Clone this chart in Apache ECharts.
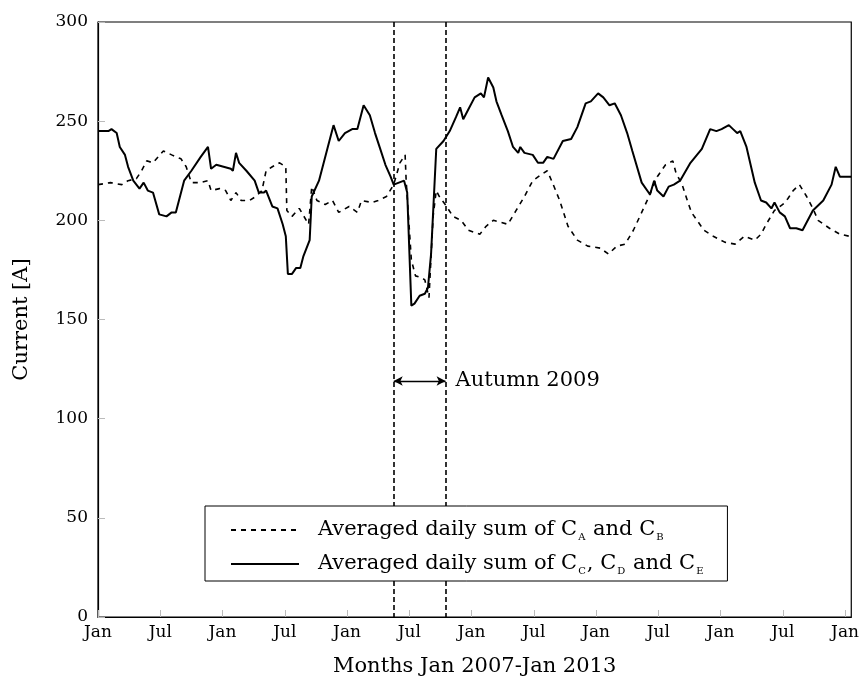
<!DOCTYPE html>
<html>
<head>
<meta charset="utf-8">
<script src="https://cdn.jsdelivr.net/npm/echarts@6/dist/echarts.min.js"></script>
<style>
  html, body { margin: 0; padding: 0; background: #fff; }
  #chart { width: 862px; height: 682px; }
</style>
</head>
<body>
<div id="chart"></div>
<script>
// months since Jan 2007
const abMonths = [0, 1.2, 2.3, 2.9, 3.7, 4.2, 4.7, 5.3, 6.3, 7.1, 8.0, 8.5, 9.0, 9.8, 10.6, 10.9, 11.7, 12.3, 12.8, 13.3, 13.8, 14.6, 15.2, 15.8, 16.2, 16.8, 17.5, 18.1, 18.2, 18.7, 19.4, 20.3, 20.6, 21.1, 21.9, 22.6, 23.2, 24.2, 25.0, 25.4, 26.4, 27.0, 27.8, 28.5, 29.1, 29.6, 29.7, 30.2, 30.6, 31.2, 31.5, 31.9, 32.3, 32.6, 32.9, 33.6, 34.2, 35.0, 35.7, 36.8, 37.4, 38.1, 39.5, 40.3, 41.1, 41.9, 42.7, 43.3, 43.8, 44.5, 45.3, 46.2, 47.2, 48.4, 49.2, 50.0, 50.8, 51.6, 52.4, 53.1, 53.9, 54.7, 55.4, 55.7, 56.3, 56.8, 57.2, 58.4, 59.3, 60.4, 61.4, 62.3, 63.3, 63.9, 64.4, 65.2, 66.0, 66.5, 67.0, 67.6, 68.3, 68.9, 69.4, 70.5, 71.5, 72.4, 72.6];
const abValues = [218, 219, 218, 220, 221, 225, 230, 229, 235, 233, 231, 227, 219, 219, 220, 215, 216, 215, 210, 214, 210, 210, 212, 215, 225, 227, 229, 227, 205, 202, 206, 198, 217, 210, 208, 210, 204, 207, 204, 210, 209, 210, 212, 218, 229, 233, 220, 180, 172, 171, 170, 161, 202, 215, 212, 207, 202, 200, 195, 193, 197, 200, 198, 205, 212, 220, 223, 225, 219, 210, 197, 190, 187, 186, 183, 187, 188, 195, 204, 212, 222, 228, 230, 224, 218, 210, 204, 195, 192, 189, 188, 192, 190, 193, 198, 205, 208, 211, 215, 218, 212, 206, 200, 196, 193, 192, 192];

const cdeMonths = [0, 1.0, 1.3, 1.8, 2.1, 2.6, 2.9, 3.4, 4.0, 4.4, 4.8, 5.3, 5.9, 6.6, 7.1, 7.5, 8.3, 9.0, 9.9, 10.6, 10.9, 11.4, 12.8, 13.0, 13.3, 13.6, 14.3, 15.1, 15.5, 16.0, 16.2, 16.8, 17.3, 17.8, 18.1, 18.3, 18.7, 19.1, 19.5, 19.8, 20.4, 20.6, 21.3, 22.1, 22.7, 23.2, 23.8, 24.5, 25.0, 25.6, 26.2, 26.7, 27.2, 27.7, 28.2, 28.5, 29.0, 29.5, 29.8, 30.2, 30.5, 31.0, 31.5, 31.8, 32.1, 32.6, 33.3, 33.9, 34.5, 34.9, 35.2, 35.7, 36.3, 36.9, 37.2, 37.6, 38.1, 38.4, 38.9, 39.5, 40.0, 40.5, 40.7, 41.1, 41.9, 42.4, 42.9, 43.3, 43.9, 44.8, 45.6, 46.2, 47.0, 47.5, 48.2, 48.7, 49.3, 49.8, 50.4, 51.0, 51.5, 52.4, 53.2, 53.6, 53.9, 54.5, 55.0, 55.5, 56.1, 57.1, 58.2, 59.0, 59.6, 60.1, 60.8, 61.2, 61.6, 61.9, 62.5, 63.3, 63.9, 64.4, 64.9, 65.2, 65.7, 66.2, 66.7, 67.3, 67.9, 68.9, 69.9, 70.7, 71.1, 71.5, 72.6];
const cdeValues = [245, 245, 246, 244, 237, 233, 227, 220, 216, 219, 215, 214, 203, 202, 204, 204, 220, 225, 232, 237, 226, 228, 226, 225, 234, 229, 225, 220, 214, 214, 215, 207, 206, 198, 192, 173, 173, 176, 176, 182, 190, 212, 220, 236, 248, 240, 244, 246, 246, 258, 253, 244, 236, 228, 222, 218, 219, 220, 214, 157, 158, 162, 163, 166, 183, 236, 240, 245, 252, 257, 251, 256, 262, 264, 262, 272, 267, 260, 253, 245, 237, 234, 237, 234, 233, 229, 229, 232, 231, 240, 241, 247, 259, 260, 264, 262, 258, 259, 253, 244, 235, 219, 213, 220, 215, 212, 217, 218, 220, 229, 236, 246, 245, 246, 248, 246, 244, 245, 237, 219, 210, 209, 206, 209, 204, 202, 196, 196, 195, 205, 210, 218, 227, 222, 222];

const xTickLabels = ['Jan', 'Jul', 'Jan', 'Jul', 'Jan', 'Jul', 'Jan', 'Jul', 'Jan', 'Jul', 'Jan', 'Jul', 'Jan'];
const autumnBounds = [28.5, 33.5];
const arrowLevel = 119;

const FONT = 'DejaVu Serif';
const BIG = 21;
const SMALL = 17;
const Y_MIN = 0;
const Y_MAX = 300;

const CHART_H = 682;
const GRID_TOP = 22;
const GRID_BOTTOM = 65;

// legend box: top + padding + two rows + gap + padding
const LEGEND_TOP = 506;
const LEGEND_PAD = [12, 23, 5, 25];
const LEGEND_ROW = 24;
const LEGEND_GAP = 10;
const LEGEND_BOTTOM = LEGEND_TOP + LEGEND_PAD[0] + LEGEND_ROW * 2 + LEGEND_GAP + LEGEND_PAD[2];

// pixel row -> y value, same linear mapping the value axis uses
const plotBottom = CHART_H - GRID_BOTTOM;
const plotHeight = plotBottom - GRID_TOP;
const pxToValue = px => Y_MIN + (plotBottom - px) / plotHeight * (Y_MAX - Y_MIN);

// the boundary lines stop behind the legend box, as in the original
const gapHigh = pxToValue(LEGEND_TOP);
const gapLow = pxToValue(LEGEND_BOTTOM);
const boundaryLines = [];
autumnBounds.forEach(m => {
  boundaryLines.push([{ coord: [m, Y_MAX] }, { coord: [m, gapHigh] }]);
  boundaryLines.push([{ coord: [m, gapLow] }, { coord: [m, Y_MIN] }]);
});

const chart = echarts.init(document.getElementById('chart'), null, { renderer: 'canvas' });

const zip = (xs, ys) => xs.map((x, i) => [x, ys[i]]);

const option = {
  animation: false,
  backgroundColor: '#fff',
  textStyle: { fontFamily: FONT, color: '#000' },
  grid: {
    left: 98, right: 7, top: GRID_TOP, bottom: GRID_BOTTOM,
    show: true, borderColor: '#000', borderWidth: 1.2, backgroundColor: 'transparent'
  },
  legend: {
    orient: 'vertical',
    left: 205,
    top: LEGEND_TOP,
    z: 50,
    padding: LEGEND_PAD,
    itemGap: LEGEND_GAP,
    itemWidth: 68,
    itemHeight: 14,
    backgroundColor: '#fff',
    borderColor: '#000',
    borderWidth: 1,
    borderRadius: 0,
    itemStyle: { opacity: 0 },
    textStyle: {
      fontFamily: FONT,
      fontSize: BIG,
      color: '#000',
      lineHeight: LEGEND_ROW,
      padding: [0, 0, 0, 14],
      rich: {
        s: { fontFamily: FONT, fontSize: 10, verticalAlign: 'bottom', lineHeight: LEGEND_ROW, padding: [0, 1, 0, 1], color: '#000' }
      }
    },
    formatter: name => name,
    data: [
      'Averaged daily sum of C{s|A} and C{s|B}',
      'Averaged daily sum of C{s|C}, C{s|D} and C{s|E}'
    ]
  },
  xAxis: {
    type: 'value',
    min: 0,
    max: 72.6,
    interval: 6,
    name: 'Months Jan 2007-Jan 2013',
    nameLocation: 'middle',
    nameGap: 39,
    nameTextStyle: { fontFamily: FONT, fontSize: BIG, color: '#000' },
    axisLine: { lineStyle: { color: '#000', width: 1.2 } },
    axisTick: { inside: true, length: 7, lineStyle: { color: '#bbb' } },
    axisLabel: {
      fontFamily: FONT, fontSize: SMALL, color: '#000', margin: 7,
      showMaxLabel: false,
      formatter: v => {
        const k = v / 6;
        return Number.isInteger(k) && xTickLabels[k] ? xTickLabels[k] : '';
      }
    },
    splitLine: { show: false }
  },
  yAxis: {
    type: 'value',
    min: Y_MIN,
    max: Y_MAX,
    interval: 50,
    name: 'Current [A]',
    nameLocation: 'middle',
    nameGap: 66,
    nameRotate: 90,
    nameTextStyle: { fontFamily: FONT, fontSize: BIG, color: '#000' },
    axisLine: { show: true, lineStyle: { color: '#000', width: 1.2 } },
    axisTick: { show: true, inside: true, length: 7, lineStyle: { color: '#bbb' } },
    axisLabel: { fontFamily: FONT, fontSize: SMALL, color: '#000', margin: 10 },
    splitLine: { show: false }
  },
  series: [
    {
      name: 'Averaged daily sum of C{s|A} and C{s|B}',
      type: 'line',
      data: zip(abMonths, abValues),
      symbol: 'none',
      showSymbol: false,
      lineStyle: { color: '#000', width: 1.6, type: [5, 5] },
      itemStyle: { color: '#000' },
      z: 3,
      markLine: {
        silent: true,
        symbol: ['none', 'none'],
        label: { show: false },
        lineStyle: { color: '#000', width: 1.6, type: [5, 3] },
        data: boundaryLines
      }
    },
    {
      name: 'Averaged daily sum of C{s|C}, C{s|D} and C{s|E}',
      type: 'line',
      data: zip(cdeMonths, cdeValues),
      symbol: 'none',
      showSymbol: false,
      lineStyle: { color: '#000', width: 2, type: 'solid' },
      itemStyle: { color: '#000' },
      z: 4,
      markLine: {
        silent: true,
        symbol: ['arrow', 'arrow'],
        symbolSize: [7, 9],
        lineStyle: { color: '#000', width: 1.4, type: 'solid' },
        label: {
          show: true,
          position: 'end',
          distance: 10,
          formatter: 'Autumn 2009',
          fontFamily: FONT,
          fontSize: BIG,
          color: '#000'
        },
        data: [[
          { coord: [autumnBounds[0], arrowLevel] },
          { coord: [autumnBounds[1], arrowLevel] }
        ]]
      }
    }
  ]
};

chart.setOption(option);
</script>
</body>
</html>
